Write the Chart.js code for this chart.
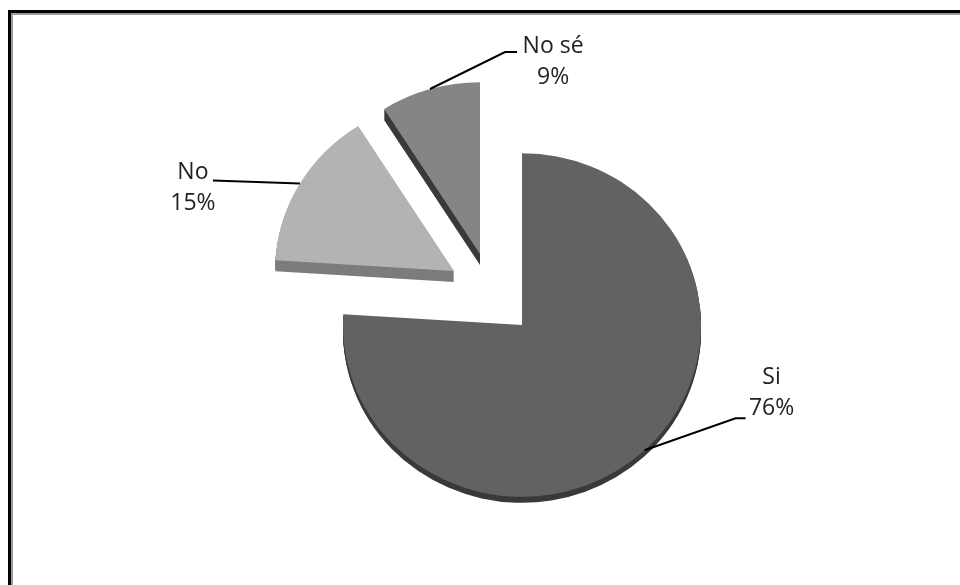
<!DOCTYPE html>
<html>
<head>
<meta charset="utf-8">
<script src="https://cdn.jsdelivr.net/npm/chart.js@4"></script>
<style>
  html, body { margin: 0; padding: 0; background: #fff; overflow: hidden; }
  #frame {
    position: absolute; left: 8px; top: 10px; width: 1000px; height: 1000px;
    border-left: 3px solid #000; border-top: 3px solid #000;
    box-shadow: inset 2px 2px 0 #9a9a9a;
  }
  canvas { position: absolute; left: 0; top: 0; }
</style>
</head>
<body>
<div id="frame"></div>
<canvas id="pie" width="960" height="585"></canvas>
<script>
// Survey answers
const categories = ['Si', 'No', 'No sé'];
const values = [76, 15, 9];

// Top face and side colours of each slice
const topColors = ['#626262', '#b3b3b3', '#858585'];
const sideColors = ['#3a3a3a', '#7c7c7c', '#3a3a3a'];
const depth = [6, 11, 11];          // thickness of the 3d edge
const explode = [[0, 0], [-68, -54], [-42, -71]]; // pull-out of each slice
const squash = 0.96;                // slight tilt of the pie

// Leader line and label placement, relative to the point on the slice
const leader = [
  { bend: [91, -32], end: [101, -32], text: [127, -57] },
  { bend: null, end: [-87, -3], text: [-107, 4] },
  { bend: [75, -37], end: [87, -37], text: [123, -27] },
];

function sliceFrame(ctx, chartArc, i, extraY) {
  const cx = chartArc.x, cy = chartArc.y;
  ctx.translate(explode[i][0], explode[i][1] + extraY);
  ctx.translate(cx, cy);
  ctx.scale(1, squash);
  ctx.translate(-cx, -cy);
}

// Draws the slices with an edge and pulled out, then the labels
const pie3d = {
  id: 'pie3d',
  beforeDatasetDraw(chart, args) {
    const ctx = chart.ctx;
    args.meta.data.forEach((arc, i) => {
      const base = arc.options;
      arc.options = Object.assign({}, base, { backgroundColor: sideColors[i] });
      for (let k = depth[i]; k > 0; k--) {
        ctx.save();
        sliceFrame(ctx, arc, i, k);
        arc.draw(ctx);
        ctx.restore();
      }
      arc.options = base;
      ctx.save();
      sliceFrame(ctx, arc, i, 0);
      arc.draw(ctx);
      ctx.restore();
    });
    return false;
  },
  afterDatasetsDraw(chart) {
    const ctx = chart.ctx;
    chart.getDatasetMeta(0).data.forEach((arc, i) => {
      const p = arc.getProps(['x', 'y', 'startAngle', 'endAngle', 'outerRadius'], true);
      const mid = (p.startAngle + p.endAngle) / 2;
      const ax = p.x + explode[i][0] + Math.cos(mid) * p.outerRadius;
      const ay = p.y + explode[i][1] + Math.sin(mid) * p.outerRadius * squash;
      const l = leader[i];

      ctx.save();
      ctx.strokeStyle = '#000';
      ctx.lineWidth = 2;
      ctx.beginPath();
      ctx.moveTo(ax, ay);
      if (l.bend) ctx.lineTo(ax + l.bend[0], ay + l.bend[1]);
      ctx.lineTo(ax + l.end[0], ay + l.end[1]);
      ctx.stroke();

      ctx.fillStyle = '#222';
      ctx.font = '23px "Open Sans"';
      ctx.textAlign = 'center';
      ctx.textBaseline = 'middle';
      const tx = ax + l.text[0], ty = ay + l.text[1];
      ctx.fillText(categories[i], tx, ty - 15.5);
      ctx.fillText(values[i] + '%', tx, ty + 15.5);
      ctx.restore();
    });
  }
};

new Chart(document.getElementById('pie'), {
  type: 'pie',
  data: {
    labels: categories,
    datasets: [{
      data: values,
      backgroundColor: topColors,
      borderWidth: 0,
      radius: 179,
    }],
  },
  options: {
    responsive: false,
    animation: false,
    layout: { padding: { left: 84, top: 65, right: 0, bottom: 0 } },
    plugins: {
      legend: { display: false },
      tooltip: { enabled: false },
    },
  },
  plugins: [pie3d],
});
</script>
</body>
</html>
